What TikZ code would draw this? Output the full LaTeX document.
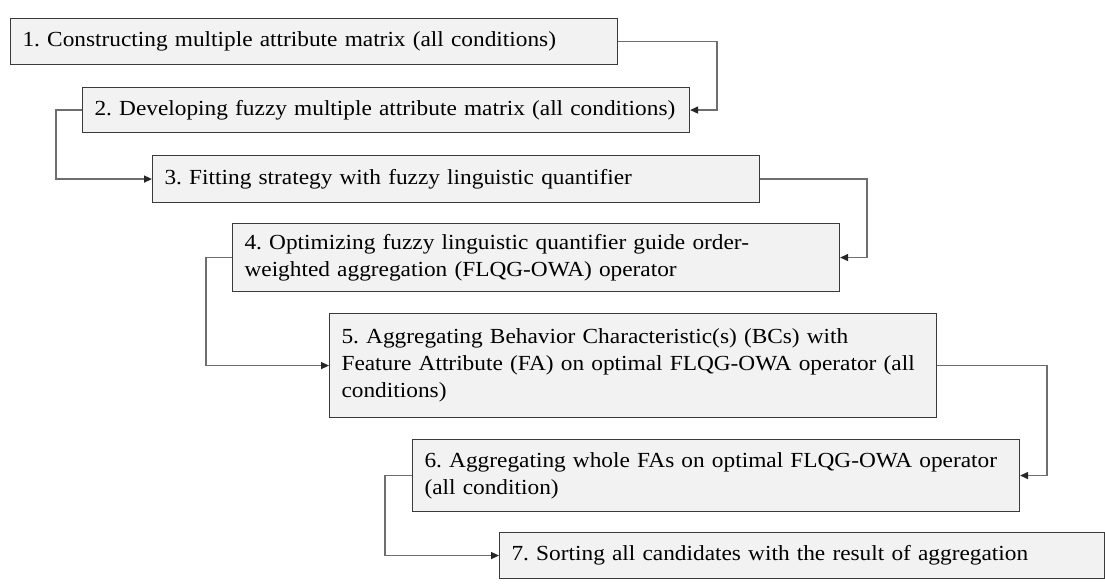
\documentclass[tikz,border=0pt]{standalone}
\usepackage{fontspec}
\setmainfont{Liberation Serif}[FakeStretch=1.085]
\usetikzlibrary{arrows.meta}
\definecolor{boxfill}{HTML}{F2F2F2}
\definecolor{boxline}{HTML}{3A3A3A}
\definecolor{linkline}{HTML}{6E6E6E}
% one unbreakable line of step text, set slightly low in its box
\newcommand{\stepline}[1]{\raisebox{-2.5pt}{#1}}
\tikzset{
  stepbox/.style={draw=boxline, line width=1.1pt, fill=boxfill, rectangle,
    anchor=north west, minimum width=607pt, text width=583pt,
    inner xsep=12pt, inner ysep=0pt, align=left,
    font=\fontsize{21.5}{27}\selectfont\frenchspacing},
  link/.style={draw=linkline, line width=1.4pt,
    -{Triangle[length=8pt,width=7pt,color=black!85]}},
}
\begin{document}
\begin{tikzpicture}[x=1pt,y=-1pt]
\useasboundingbox (0,0) rectangle (1105,585);

% process steps, each shifted further to the right
\node[stepbox, minimum height=46pt] (b1) at (10,18)
  {\stepline{1. Constructing multiple attribute matrix (all conditions)}};
\node[stepbox, minimum height=45pt] (b2) at (82,87)
  {\stepline{2. Developing fuzzy multiple attribute matrix (all conditions)}};
\node[stepbox, minimum height=47pt] (b3) at (152,155)
  {\stepline{3. Fitting strategy with fuzzy linguistic quantifier}};
\node[stepbox, minimum height=68pt] (b4) at (232,223)
  {\stepline{4. Optimizing fuzzy linguistic quantifier guide order-}\\
   \stepline{weighted aggregation (FLQG-OWA) operator}};
\node[stepbox, minimum height=104pt] (b5) at (329,313)
  {\stepline{5. Aggregating Behavior Characteristic(s) (BCs) with}\\
   \stepline{Feature Attribute (FA) on optimal FLQG-OWA operator (all}\\
   \stepline{conditions)}};
\node[stepbox, minimum height=72pt] (b6) at (412,439)
  {\stepline{6. Aggregating whole FAs on optimal FLQG-OWA operator}\\
   \stepline{(all condition)}};
\node[stepbox, minimum height=46pt, minimum width=605pt, text width=581pt] (b7) at (499,532)
  {\stepline{7. Sorting all candidates with the result of aggregation}};

% elbow connectors alternating between right and left sides
\draw[link] (b1.east) -- ++(99,0)  |- (b2.east);
\draw[link] (b2.west) -- ++(-26,0) |- (b3.west);
\draw[link] (b3.east) -- ++(107,0) |- (b4.east);
\draw[link] (b4.west) -- ++(-26,0) |- (b5.west);
\draw[link] (b5.east) -- ++(110,0) |- (b6.east);
\draw[link] (b6.west) -- ++(-27,0) |- (b7.west);
\end{tikzpicture}
\end{document}
